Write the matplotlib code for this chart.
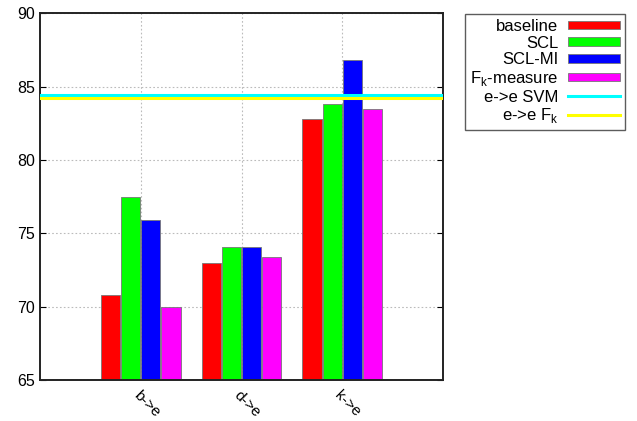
import numpy as np
import matplotlib
matplotlib.use("Agg")
import matplotlib.pyplot as plt

plt.rcParams['font.family'] = ['Liberation Sans', 'DejaVu Sans']

tasks = ["b->e", "d->e", "k->e"]
series = ["baseline", "SCL", "SCL-MI", "F$_\\mathregular{k}$-measure"]
colors = ["#ff0000", "#00ff00", "#0000ff", "#ff00ff"]
values = [
    [70.8, 73.0, 82.8],   # baseline
    [77.5, 74.1, 83.8],   # SCL
    [75.9, 74.1, 86.8],   # SCL-MI
    [70.0, 73.4, 83.5],   # Fk-measure
]
ref_labels = ["e->e SVM", "e->e F$_\\mathregular{k}$"]
ref_values = [84.45, 84.2]
ref_colors = ["#00ffff", "#ffff00"]

fig = plt.figure(figsize=(6.37, 4.21), dpi=100)
ax = fig.add_axes([0.0628, 0.0974, 0.6327, 0.871])

x = np.arange(1, len(tasks) + 1)
width = 0.19
offsets = [-0.3, -0.1, 0.1, 0.3]
handles = []
for vals, lab, col, off in zip(values, series, colors, offsets):
    b = ax.bar(x + off, vals, width, color=col, edgecolor="#777777",
               linewidth=0.6, label=lab, zorder=2)
    handles.append(b)

for val, lab, col in zip(ref_values, ref_labels, ref_colors):
    h = ax.axhline(val, color=col, linewidth=2.2, label=lab, zorder=3)
    handles.append(h)

ax.set_xlim(0, 4)
ax.set_ylim(65, 90)
ax.set_yticks(range(65, 91, 5))
ax.set_xticks(x)
ax.set_xticklabels(tasks, rotation=-45, ha="left", va="top",
                   rotation_mode="anchor", fontsize=11)
ax.tick_params(axis="y", labelsize=11.5, direction="in", right=True, length=4)
ax.tick_params(axis="x", direction="in", top=True, length=0, pad=6)
ax.grid(True, color="#bbbbbb", linestyle=(0, (1.5, 2)), linewidth=0.8, zorder=0)
ax.set_axisbelow(True)
for s in ax.spines.values():
    s.set_linewidth(1.4)
    s.set_color("#222222")

leg = ax.legend(handles=handles, loc="upper left",
                bbox_to_anchor=(0.73, 0.967), bbox_transform=fig.transFigure,
                markerfirst=False, fontsize=12, frameon=True, fancybox=False,
                edgecolor="#333333", handlelength=3.1, handleheight=0.42,
                labelspacing=0.1, borderaxespad=0, handletextpad=0.6,
                borderpad=0.3)
leg.get_frame().set_linewidth(1.0)
for col in leg._legend_box.get_children()[1].get_children():
    col.align = "right"

fig.savefig("out.png", dpi=100)
